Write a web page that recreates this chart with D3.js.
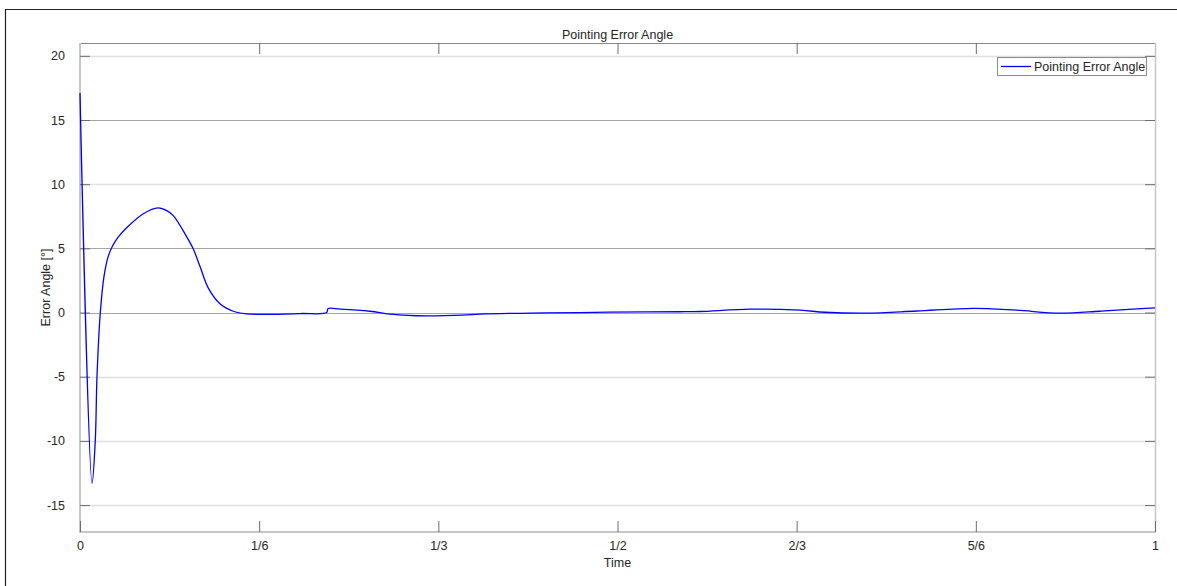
<!DOCTYPE html>
<html><head><meta charset="utf-8">
<script src="https://cdn.jsdelivr.net/npm/d3@7"></script>
<style>
html,body{margin:0;padding:0;background:#fff;}
text{font-family:"Liberation Sans",Arial,sans-serif;fill:#262626;}
</style></head>
<body>
<svg id="c" width="1177" height="586"></svg>
<script>
const title = "Pointing Error Angle";
const xLabel = "Time";
const yLabel = "Error Angle [°]";
const seriesName = "Pointing Error Angle";
const xTickValues = [0, 1/6, 1/3, 1/2, 2/3, 5/6, 1];
const xTickLabels = ["0", "1/6", "1/3", "1/2", "2/3", "5/6", "1"];
const yTickValues = [-15, -10, -5, 0, 5, 10, 15, 20];
const yTickLabels = ["-15", "-10", "-5", "0", "5", "10", "15", "20"];
const timeValues = [0, 0.0112, 0.0142, 0.0158, 0.0189, 0.0223, 0.0260, 0.0298, 0.0353, 0.0434, 0.0589, 0.0726, 0.0807, 0.0868, 0.0993, 0.1054, 0.1116, 0.1194, 0.1302, 0.1426, 0.1550, 0.1737, 0.2047, 0.2295, 0.2307, 0.2419, 0.2698, 0.2884, 0.3132, 0.3563, 0.3721, 0.4186, 0.4651, 0.5271, 0.5581, 0.5767, 0.6233, 0.6698, 0.6930, 0.7318, 0.7783, 0.8310, 0.8714, 0.9116, 0.9488, 0.9795, 1.0];
const errorValues = [17.1, -13.3, -10, -5, 0, 2.8, 4.3, 5.1, 5.85, 6.6, 7.7, 8.15, 7.94, 7.55, 5.9, 4.95, 3.6, 1.9, 0.68, 0.1, -0.1, -0.15, -0.08, 0.0, 0.3, 0.27, 0.1, -0.13, -0.25, -0.2, -0.12, -0.05, 0, 0.05, 0.06, 0.08, 0.26, 0.18, 0.02, -0.05, 0.12, 0.33, 0.18, -0.05, 0.1, 0.26, 0.36];

const svg = d3.select("#c");
const L = 80, R = 1155, T = 43, B = 532;
const x = d3.scaleLinear().domain([0, 1]).range([L, R]);
const y = d3.scaleLinear().domain([-17.1, 21]).range([B, T]);

// outer figure border
svg.append("path").attr("d", `M5.5,586 L5.5,9.5 L1177,9.5`).attr("fill","none").attr("stroke","#222").attr("stroke-width",1.2);

// grid
const darkGrid = [15, 5, 0];
svg.append("g").selectAll("line").data(yTickValues).join("line")
  .attr("x1", L).attr("x2", R)
  .attr("y1", d => Math.round(y(d)) + 0.5).attr("y2", d => Math.round(y(d)) + 0.5)
  .attr("stroke", d => darkGrid.includes(d) ? "#a6a6a6" : "#e0e0e0")
  .attr("stroke-width", d => darkGrid.includes(d) ? 1 : 1.6);

// axis box
svg.append("line").attr("x1",L).attr("x2",R).attr("y1",T+0.5).attr("y2",T+0.5).attr("stroke","#8a8a8a");
svg.append("line").attr("x1",R+0.5).attr("x2",R+0.5).attr("y1",T).attr("y2",B).attr("stroke","#c6c6c6").attr("stroke-width",1.5);
svg.append("line").attr("x1",L).attr("x2",L).attr("y1",T).attr("y2",B+1).attr("stroke","#c6c6c6").attr("stroke-width",2);
svg.append("line").attr("x1",L).attr("x2",R+1).attr("y1",B).attr("y2",B).attr("stroke","#c6c6c6").attr("stroke-width",2);

// axes with inward ticks
const xAxisB = d3.axisBottom(x).tickValues(xTickValues).tickFormat((d,i)=>xTickLabels[i]).tickSizeInner(-11).tickSizeOuter(0);
const gxb = svg.append("g").attr("transform",`translate(0,${B})`).call(xAxisB);
const xAxisT = d3.axisTop(x).tickValues(xTickValues.slice(1,-1)).tickFormat("").tickSizeInner(-11).tickSizeOuter(0);
const gxt = svg.append("g").attr("transform",`translate(0,${T})`).call(xAxisT);
const yAxisL = d3.axisLeft(y).tickValues(yTickValues).tickFormat((d,i)=>yTickLabels[i]).tickSizeInner(-10).tickSizeOuter(0).tickPadding(15);
const gyl = svg.append("g").attr("transform",`translate(${L},0)`).call(yAxisL);
const yAxisR = d3.axisRight(y).tickValues(yTickValues).tickFormat("").tickSizeInner(-10).tickSizeOuter(0);
const gyr = svg.append("g").attr("transform",`translate(${R},0)`).call(yAxisR);
[gxb,gxt,gyl,gyr].forEach(g=>{
  g.select(".domain").remove();
  g.selectAll(".tick line").attr("stroke","#6e6e6e").attr("stroke-width",1);
  g.selectAll(".tick text").attr("font-size",12.5).attr("fill","#333").attr("font-family","Liberation Sans, Arial, sans-serif");
});
gxb.selectAll(".tick text").attr("dy","0.32em").attr("y", 14);

// line
const line = d3.line().x((d,i)=>x(timeValues[i])).y(d=>y(d)).curve(d3.curveCatmullRom.alpha(0.5));
svg.append("path").datum(errorValues).attr("d", line)
  .attr("fill","none").attr("stroke","#0000ff").attr("stroke-width",1.3).attr("stroke-linejoin","round");

// title and labels
svg.append("text").attr("x",(L+R)/2).attr("y",39).attr("text-anchor","middle").attr("font-size",12.5).text(title);
svg.append("text").attr("x",(L+R)/2).attr("y",567).attr("text-anchor","middle").attr("font-size",12.5).text(xLabel);
svg.append("text").attr("transform",`translate(50,${(T+B)/2}) rotate(-90)`).attr("text-anchor","middle").attr("font-size",12.5).text(yLabel);

// legend
const lg = svg.append("g");
lg.append("rect").attr("x",997.5).attr("y",57.5).attr("width",149).attr("height",18).attr("fill","#fff").attr("stroke","#8a8a8a").attr("stroke-width",1);
lg.append("line").attr("x1",1001).attr("x2",1031).attr("y1",66.5).attr("y2",66.5).attr("stroke","#0000ff").attr("stroke-width",1.3);
lg.append("text").attr("x",1034).attr("y",71).attr("font-size",12.5).text(seriesName);
</script>
</body></html>
